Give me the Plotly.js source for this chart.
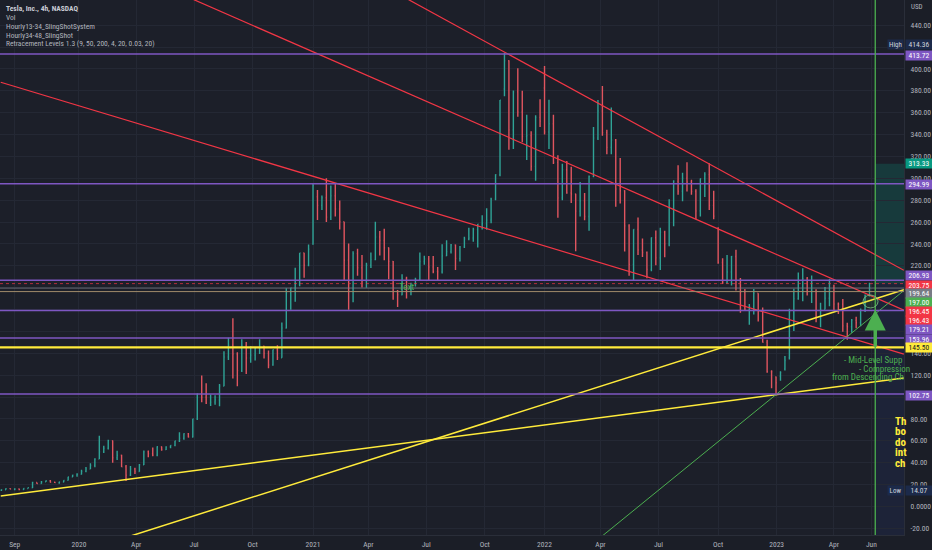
<!DOCTYPE html>
<html><head><meta charset="utf-8">
<script src="https://cdn.plot.ly/plotly-3.0.1.min.js"></script>
<style>html,body{margin:0;padding:0;background:#1b1e27;overflow:hidden}#chart{width:932px;height:550px}</style>
</head><body><div id="chart"></div>
<script>
// ---------- DATA (weekly OHLC: [week, open, high, low, close]) ----------
const tsla2019 = [
['2019-09-02',15.0,15.4,14.07,15.3],['2019-09-09',15.3,16.6,15.2,16.3],['2019-09-16',16.3,16.6,15.8,16.0],
['2019-09-23',16.0,16.3,14.8,16.1],['2019-09-30',16.1,16.4,14.8,15.4],['2019-10-07',15.4,16.6,15.2,16.5],
['2019-10-14',16.5,17.4,16.4,17.1],['2019-10-21',17.1,22.7,16.9,21.9],['2019-10-28',21.9,22.0,20.5,20.9],
['2019-11-04',20.9,23.2,20.8,22.5],['2019-11-11',22.5,23.8,22.3,23.5],['2019-11-18',23.5,24.2,22.0,22.2],
['2019-11-25',22.2,22.4,21.6,22.0],['2019-12-02',22.0,22.6,20.8,22.4],['2019-12-09',22.4,24.0,22.2,23.9],
['2019-12-16',23.9,27.3,23.8,27.0],['2019-12-23',27.0,29.0,26.9,28.7],['2019-12-30',28.7,30.3,27.3,29.5]];
const tsla2020 = [
['2020-01-06',29.5,33.7,29.3,32.1],['2020-01-13',32.1,36.0,31.2,34.3],['2020-01-20',34.3,39.5,34.2,37.6],
['2020-01-27',37.6,44.0,35.8,43.4],['2020-02-03',43.4,64.6,43.4,49.9],['2020-02-10',49.9,55.6,49.0,53.3],
['2020-02-17',53.3,61.0,52.0,60.2],['2020-02-24',60.2,60.3,40.0,44.5],['2020-03-02',44.5,50.9,42.6,46.9],
['2020-03-09',46.9,47.3,36.0,36.4],['2020-03-16',36.4,38.0,23.4,28.5],['2020-03-23',28.5,37.1,27.8,34.3],
['2020-03-30',34.3,35.4,29.8,32.0],['2020-04-06',32.0,38.8,31.8,38.2],['2020-04-13',38.2,51.3,38.0,50.1],
['2020-04-20',50.1,51.3,45.0,48.3],['2020-04-27',48.3,53.9,46.0,46.8],['2020-05-04',46.8,55.0,46.0,54.6],
['2020-05-11',54.6,54.8,51.0,52.0],['2020-05-18',52.0,55.0,51.6,54.5],['2020-05-25',54.5,56.0,53.3,55.9],
['2020-06-01',55.9,60.0,55.0,59.9],['2020-06-08',59.9,67.9,59.0,62.4],['2020-06-15',62.4,67.0,61.0,66.6],
['2020-06-22',66.6,67.3,63.0,63.6],['2020-06-29',63.6,80.3,63.0,80.1],['2020-07-06',80.1,103.3,79.0,102.9],
['2020-07-13',102.9,119.7,95.3,100.0],['2020-07-20',100.0,112.6,93.7,94.5],['2020-07-27',94.5,102.4,91.8,95.4],
['2020-08-03',95.4,101.6,93.0,97.5],['2020-08-10',97.5,112.0,91.6,110.2],['2020-08-17',110.2,142.0,110.0,136.6],
['2020-08-24',136.6,154.2,134.0,147.6],['2020-08-31',147.6,172.0,117.1,139.4],['2020-09-07',139.4,141.0,110.0,124.2],
['2020-09-14',124.2,153.0,123.0,147.3],['2020-09-21',147.3,150.3,121.2,135.7],['2020-09-28',135.7,146.6,131.3,138.4],
['2020-10-05',138.4,145.0,133.5,144.7],['2020-10-12',144.7,153.0,139.3,146.6],['2020-10-19',146.6,147.0,135.3,140.0],
['2020-10-26',140.0,142.7,126.4,129.3],['2020-11-02',129.3,143.5,128.6,143.3],['2020-11-09',143.3,147.3,134.0,136.0],
['2020-11-16',136.0,168.3,136.0,163.2],['2020-11-23',163.2,199.6,162.8,195.3],['2020-11-30',195.3,199.9,179.8,199.7],
['2020-12-07',199.7,218.2,187.1,203.3],['2020-12-14',203.3,231.7,201.3,231.7],['2020-12-21',231.7,232.0,209.0,220.6],
['2020-12-28',220.6,239.6,219.7,235.2]];
const tsla2021 = [
['2021-01-04',239.8,294.8,239.3,293.3],['2021-01-11',283.1,289.3,262.0,275.3],['2021-01-18',275.3,284.3,271.0,282.2],
['2021-01-25',282.2,300.1,260.0,264.5],['2021-02-01',264.5,293.5,262.0,284.0],['2021-02-08',284.0,294.8,265.0,272.0],
['2021-02-15',272.0,279.8,253.3,260.3],['2021-02-22',260.3,260.3,206.3,225.2],['2021-03-01',225.2,240.4,179.8,199.3],
['2021-03-08',199.3,233.3,186.7,231.2],['2021-03-15',231.2,235.6,211.0,218.3],['2021-03-22',218.3,230.0,200.1,206.2],
['2021-03-29',206.2,222.9,200.0,220.6],['2021-04-05',220.6,232.1,218.0,225.7],['2021-04-12',225.7,260.3,225.0,246.3],
['2021-04-19',246.3,251.8,229.4,243.1],['2021-04-26',243.1,254.0,225.0,236.5],['2021-05-03',236.5,236.7,207.7,224.1],
['2021-05-10',224.1,224.5,188.9,196.6],['2021-05-17',196.6,198.0,182.3,193.6],['2021-05-24',193.6,212.3,193.0,208.4],
['2021-05-31',208.4,210.0,190.2,199.7],['2021-06-07',199.7,204.5,193.0,203.3],['2021-06-14',203.3,209.0,201.0,207.8],
['2021-06-21',207.8,232.3,206.6,224.0],['2021-06-28',224.0,229.3,220.9,226.3],['2021-07-05',226.3,229.0,206.3,219.0],
['2021-07-12',219.0,229.0,213.3,214.7],['2021-07-19',214.7,219.0,207.1,214.5],['2021-07-26',214.5,239.8,213.0,229.1],
['2021-08-02',229.1,243.3,229.0,233.0],['2021-08-09',233.0,240.0,231.2,239.1],['2021-08-16',239.1,239.4,216.3,226.8],
['2021-08-23',226.8,238.2,224.0,237.3],['2021-08-30',237.3,246.6,236.3,244.5],['2021-09-06',244.5,254.9,243.3,245.4],
['2021-09-13',245.4,254.7,242.0,253.2],['2021-09-20',253.2,258.3,236.7,258.1],['2021-09-27',258.1,266.3,253.3,258.4],
['2021-10-04',258.4,272.7,253.0,261.8],['2021-10-11',261.8,282.2,259.0,281.0],['2021-10-18',281.0,303.7,280.0,303.2],
['2021-10-25',303.2,371.6,302.0,371.3],['2021-11-01',381.7,414.5,375.0,407.4],['2021-11-08',407.4,407.9,326.0,344.3],
['2021-11-15',344.3,380.2,326.7,379.0],['2021-11-22',379.0,400.6,356.2,360.6],['2021-11-29',360.6,380.0,333.0,338.3],
['2021-12-06',338.3,358.0,316.8,339.0],['2021-12-13',339.0,343.0,307.0,310.9],['2021-12-20',310.9,357.7,297.8,355.7],
['2021-12-27',355.7,372.3,347.0,352.3]];
const tsla2022 = [
['2022-01-03',382.6,402.7,340.0,342.3],['2022-01-10',342.3,371.9,326.7,349.9],['2022-01-17',349.9,358.0,313.0,314.6],
['2022-01-24',314.6,321.0,264.0,282.1],['2022-01-31',282.1,313.3,280.0,307.8],['2022-02-07',307.8,315.9,286.0,286.7],
['2022-02-14',286.7,310.5,277.4,285.7],['2022-02-21',285.7,286.0,233.3,270.0],['2022-02-28',270.0,296.6,265.0,279.4],
['2022-03-07',279.4,286.6,261.6,265.1],['2022-03-14',265.1,302.6,252.0,301.8],['2022-03-21',301.8,346.9,301.0,336.9],
['2022-03-28',336.9,371.6,335.0,361.5],['2022-04-04',361.5,384.3,339.0,341.8],['2022-04-11',341.8,344.3,322.0,328.3],
['2022-04-18',328.3,364.7,322.0,335.0],['2022-04-25',335.0,336.0,273.9,290.3],['2022-05-02',290.3,318.5,277.0,288.6],
['2022-05-09',288.6,289.0,233.0,256.5],['2022-05-16',256.5,258.0,211.0,221.3],['2022-05-23',221.3,253.5,206.9,253.2],
['2022-05-30',253.2,264.2,230.0,234.5],['2022-06-06',234.5,245.0,228.0,232.2],['2022-06-13',232.2,233.0,208.7,216.8],
['2022-06-20',216.8,246.0,215.0,245.7],['2022-06-27',245.7,252.3,220.5,227.3],['2022-07-04',227.3,254.9,216.2,250.8],
['2022-07-11',250.8,252.0,227.8,240.1],['2022-07-18',240.1,280.8,238.0,272.2],['2022-07-25',272.2,298.3,256.2,297.2],
['2022-08-01',297.2,311.9,285.0,288.2],['2022-08-08',288.2,305.0,279.0,300.0],['2022-08-15',300.0,314.7,288.0,296.7],
['2022-08-22',296.7,298.8,285.0,288.1],['2022-08-29',288.1,289.9,262.5,270.2],['2022-09-05',270.2,299.9,265.2,299.7],
['2022-09-12',299.7,305.5,283.0,303.4],['2022-09-19',303.4,313.8,271.0,275.3],['2022-09-26',275.3,288.7,262.5,265.3],
['2022-10-03',254.5,255.2,221.9,223.1],['2022-10-10',223.1,227.0,203.5,205.0],['2022-10-17',205.0,229.8,203.6,214.4],
['2022-10-24',214.4,229.0,202.0,228.5],['2022-10-31',228.5,234.6,197.5,207.5],['2022-11-07',207.5,208.9,177.1,196.0],
['2022-11-14',196.0,198.9,178.8,180.2],['2022-11-21',180.2,185.0,166.2,182.9],['2022-11-28',182.9,198.9,175.5,194.9],
['2022-12-05',194.9,195.0,169.1,179.1],['2022-12-12',179.1,182.0,150.0,150.2],['2022-12-19',150.2,152.4,122.3,123.2],
['2022-12-26',123.2,124.5,108.2,123.2]];
const tsla2023 = [
['2023-01-02',118.5,118.8,101.8,113.1],['2023-01-09',119.0,123.6,114.9,122.4],['2023-01-16',125.7,137.5,124.3,133.4],
['2023-01-23',135.9,180.7,134.3,177.9],['2023-01-30',177.9,199.0,160.4,190.0],['2023-02-06',190.0,214.0,189.0,196.9],
['2023-02-13',196.9,217.7,187.6,208.3],['2023-02-20',208.3,209.7,192.8,196.9],['2023-02-27',196.9,211.2,186.0,197.8],
['2023-03-06',197.8,198.6,168.4,173.4],['2023-03-13',173.4,186.2,163.9,180.1],['2023-03-20',180.1,200.7,180.0,190.4],
['2023-03-27',190.4,207.8,183.0,207.5],['2023-04-03',199.9,202.7,179.0,185.1],['2023-04-10',185.1,186.5,176.0,185.0],
['2023-04-17',185.0,189.7,159.7,165.1],['2023-04-24',165.1,168.0,152.4,164.3],['2023-05-01',164.3,171.5,158.8,170.1],
['2023-05-08',170.1,173.4,163.0,168.0],['2023-05-15',168.0,181.0,164.7,180.1],['2023-05-22',180.1,193.9,177.7,193.2],
['2023-05-29',193.2,204.5,192.0,203.75]];

// horizontal levels
const purpleLevels = [413.72, 294.99, 206.93, 179.21, 153.96, 102.75];
const yellowLevels = [145.50];
const lastPrice = 203.75;
const grayLevel = 199.64;
const tanLevel = 196.45;
// trend lines [date, price]
const channelUpper = [['2021-04-19', 477.7], ['2023-07-22', 215.9]];
const channelMid   = [['2020-04-22', 481.0], ['2023-07-22', 179.5]];
const channelLower = [['2019-09-01', 387.8], ['2023-07-22', 139.3]];
const supportLong  = [['2019-09-01', 9.7],   ['2023-07-22', 117.4]];
const supportSteep = [['2020-02-04', -35.9], ['2023-07-22', 198.2]];
const greenTrend   = [['2022-03-15', -36.3], ['2023-07-22', 197.4]];
// position tool
const targetPrice = 313.33, entryPrice = 203.75;
const markerDate = '2023-06-07';
// price tags on axis
const tagValues = ['414.36','413.72','313.33','294.99','206.93','203.75','199.64','197.00','196.45','196.43','179.21','153.96','145.50','102.75','14.07'];
// axis ticks (labels hidden behind tags are left blank)
const priceTicks = [-20,0,20,40,60,80,100,120,140,160,180,200,220,240,260,280,300,320,340,360,380,400,420,440];
const priceTickText = ['-20.00','0.0000','20.00','40.00','60.00','80.00','','120.00','140.00','','','','220.00','240.00','260.00','280.00','300.00','320.00','340.00','360.00','380.00','400.00','','440.00'];
const timeTickDates = ['2019-09-23','2020-01-02','2020-04-01','2020-07-01','2020-10-01','2021-01-04','2021-04-01','2021-07-01','2021-10-01','2022-01-03','2022-04-01','2022-07-01','2022-10-03','2023-01-03','2023-04-03','2023-06-01'];
const timeTickText = ['Sep','2020','Apr','Jul','Oct','2021','Apr','Jul','Oct','2022','Apr','Jul','Oct','2023','Apr','Jun'];
const legendLines = ['Tesla, Inc., 4h, NASDAQ','Vol','Hourly13-34_SlingShotSystem','Hourly34-48_SlingShot','Retracement Levels 1.3 (9, 50, 200, 4, 20, 0.03, 20)'];
const noteLines = ['- Mid-Level Supp','- Compression','from Descending Ch'];
const yellowNote = ['Th','bo','do','int','ch'];

// ---------- LAYOUT HELPERS ----------
const W = 932, H = 550, MR = 28, MB = 15;
const PW = W - MR, PH = H - MB;
const px = x => x / PW, py = y => 1 - y / PH;
const FONT = 'Liberation Sans Narrow, Roboto Condensed, Roboto, sans-serif';
const X0 = '2019-08-30 20:00', X1 = '2023-07-22 05:00';

const weeks = [].concat(tsla2019, tsla2020, tsla2021, tsla2022, tsla2023);
const traces = [{
  type: 'ohlc', x: weeks.map(r => r[0]),
  open: weeks.map(r => r[1]), high: weeks.map(r => r[2]), low: weeks.map(r => r[3]), close: weeks.map(r => r[4]),
  increasing: {line: {color: '#2fa396', width: 1.4}},
  decreasing: {line: {color: '#e0555f', width: 1.4}},
  tickwidth: 0.18, hoverinfo: 'skip', showlegend: false
}];
function tline(pts, color, width) {
  traces.push({type: 'scatter', mode: 'lines', x: pts.map(p => p[0]), y: pts.map(p => p[1]),
    line: {color: color, width: width}, hoverinfo: 'skip', showlegend: false});
}
tline(channelUpper, '#f23645', 1.2);
tline(channelMid, '#f23645', 1.2);
tline(channelLower, '#f23645', 1.2);
tline(supportLong, '#ffeb3b', 1.5);
tline(supportSteep, '#ffeb3b', 1.5);
tline(greenTrend, '#4caf50', 1);

const shapes = [
  {type: 'rect', layer: 'below', xref: 'x', yref: 'y', x0: markerDate, x1: X1, y0: entryPrice, y1: targetPrice, fillcolor: 'rgba(8,153,129,0.22)', line: {width: 0}},
  {type: 'rect', layer: 'below', xref: 'x', yref: 'y', x0: markerDate, x1: X1, y0: -30, y1: entryPrice, fillcolor: 'rgba(41,98,255,0.07)', line: {width: 0}},
];
const hl = (v, color, width, dash) => shapes.push({type: 'line', xref: 'paper', x0: 0, x1: 1, yref: 'y', y0: v, y1: v, line: {color: color, width: width, dash: dash || 'solid'}});
hl(tanLevel, '#a08a6a', 1);
hl(grayLevel, 'rgba(120,123,134,0.8)', 1);
hl(lastPrice, 'rgba(242,54,69,0.7)', 1, 'dot');
purpleLevels.forEach(v => hl(v, '#7e57c2', 1.5));
yellowLevels.forEach(v => hl(v, '#ffeb3b', 2.2));
shapes.push({type: 'line', xref: 'x', yref: 'paper', x0: markerDate, x1: markerDate, y0: 0, y1: 1, line: {color: '#4caf50', width: 1.3}});
shapes.push({type: 'circle', xref: 'x', yref: 'y', x0: '2023-05-18 19:00', x1: '2023-06-11 09:00', y0: 181.5, y1: 193.3,
  line: {color: 'rgba(129,199,132,0.8)', width: 1}, fillcolor: 'rgba(76,175,80,0.12)'});

const ann = [];
legendLines.forEach((t, i) => ann.push({xref: 'paper', yref: 'paper', x: px(4), y: py([8.3, 18, 26.7, 35.3, 44][i]),
  xanchor: 'left', yanchor: 'middle', showarrow: false, text: i === 0 ? '<b>' + t + '</b>' : t,
  font: {family: FONT, size: 7.5, color: i === 0 ? '#c9ccd4' : '#b2b5be'}}));
ann.push({xref: 'paper', yref: 'paper', x: 1, xshift: 5, xanchor: 'left', y: py(7.5), yanchor: 'middle', showarrow: false,
  text: 'USD', font: {family: FONT, size: 7, color: '#b2b5be'}});
// price tags
const tagStyle = [
  ['#1c2a4a', '#d1d4dc', 44.5], ['#7e57c2', '#ffffff', 55], ['#089981', '#ffffff', 163.7], ['#7e57c2', '#ffffff', 184],
  ['#7e57c2', '#ffffff', 275.5], ['#f23645', '#ffffff', 285], ['#787b86', '#ffffff', 293.3], ['#4caf50', '#ffffff', 302],
  ['#f23645', '#ffffff', 311.3], ['#f23645', '#ffffff', 320], ['#7e57c2', '#ffffff', 329.3], ['#7e57c2', '#ffffff', 339],
  ['#ffeb3b', '#131722', 347.7], ['#7e57c2', '#ffffff', 395.7], ['#1c2a4a', '#d1d4dc', 490.3]];
tagValues.forEach((t, i) => {
  const s = tagStyle[i];
  ann.push({xref: 'paper', yref: 'paper', x: 1, xshift: 1, xanchor: 'left', y: py(s[2]), yanchor: 'middle', showarrow: false,
    text: t, bgcolor: s[0], width: 25, height: 8, borderpad: 0.5, font: {family: FONT, size: 7.5, color: s[1]}});
});
[['High', 44.5], ['Low', 490.3]].forEach(h => ann.push({xref: 'paper', yref: 'paper', x: 1, xshift: -0.5, xanchor: 'right',
  y: py(h[1]), yanchor: 'middle', showarrow: false, text: h[0], bgcolor: '#1c2a4a', width: 14, height: 8, borderpad: 0.5,
  font: {family: FONT, size: 7, color: '#d1d4dc'}}));
// drawings text
ann.push({xref: 'paper', yref: 'paper', x: px(406), y: py(286.5), showarrow: false, text: 'Text',
  font: {family: FONT, size: 9, color: '#4caf50'}});
[[842, 360], [857, 368.5], [830, 377]].forEach((p, i) => ann.push({xref: 'paper', yref: 'paper', x: px(p[0]), y: py(p[1]),
  xanchor: 'left', yanchor: 'middle', showarrow: false, text: noteLines[i], font: {family: FONT, size: 9, color: '#4caf50'}}));
yellowNote.forEach((t, i) => ann.push({xref: 'paper', yref: 'paper', x: px(893), y: py(421 + i * 10.5), xanchor: 'left',
  yanchor: 'middle', showarrow: false, text: '<b>' + t + '</b>', font: {family: FONT, size: 11, color: '#ffeb3b'}}));
ann.push({xref: 'x', yref: 'y', x: markerDate, y: 180, axref: 'x', ayref: 'y', ax: markerDate, ay: 145, text: '',
  showarrow: true, arrowhead: 2, arrowsize: 1.2, arrowwidth: 3.5, arrowcolor: '#4caf50', standoff: 0});

const layout = {
  width: W, height: H, margin: {l: 0, r: MR, t: 0, b: MB, pad: 0},
  paper_bgcolor: '#1b1e27', plot_bgcolor: '#1c1f29', showlegend: false, dragmode: false,
  xaxis: {type: 'date', range: [X0, X1], rangeslider: {visible: false}, tickmode: 'array', tickvals: timeTickDates,
    ticktext: timeTickText, showgrid: true, gridcolor: '#242834', gridwidth: 1, zeroline: false, showline: true,
    linecolor: '#2a2e39', ticks: 'outside', ticklen: 2, tickcolor: 'rgba(0,0,0,0)',
    tickfont: {family: FONT, size: 7.5, color: '#b2b5be'}, fixedrange: true},
  yaxis: {side: 'right', range: [-26.05, 463], tickmode: 'array', tickvals: priceTicks,
    ticktext: priceTickText, showgrid: true, gridcolor: '#242834',
    zeroline: false, showline: true, linecolor: '#2a2e39', ticks: 'outside', ticklen: 4, tickcolor: 'rgba(0,0,0,0)',
    tickfont: {family: FONT, size: 7.5, color: '#b2b5be'}, fixedrange: true},
  shapes: shapes, annotations: ann
};
Plotly.newPlot('chart', traces, layout, {displayModeBar: false, staticPlot: true});
</script></body></html>
